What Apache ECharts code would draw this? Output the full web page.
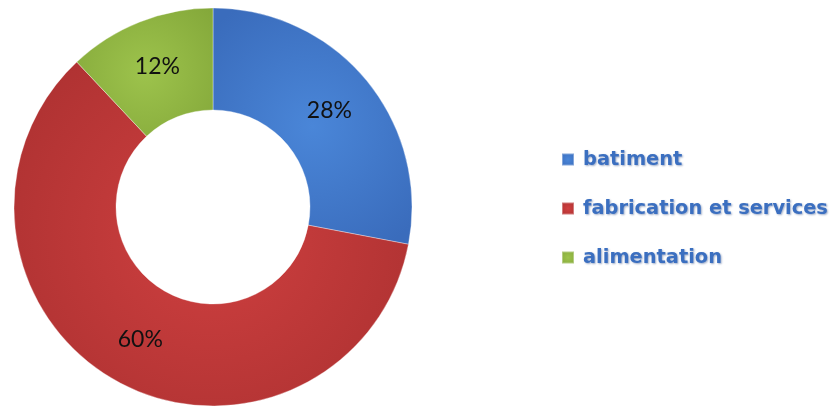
<!DOCTYPE html>
<html>
<head>
<meta charset="utf-8">
<script src="https://cdn.jsdelivr.net/npm/echarts@6/dist/echarts.min.js"></script>
<style>html,body{margin:0;padding:0;background:#fff}#c{width:832px;height:407px}</style>
</head>
<body>
<div id="c"></div>
<script>
const categories = ['batiment', 'fabrication et services', 'alimentation'];
const values = [28, 60, 12];
const colors = ['#4A86D8', '#CF4040', '#9DC34C'];
const darks = ['#3A6CBC', '#AD3131', '#84A83A'];

const chart = echarts.init(document.getElementById('c'));
chart.setOption({
  animation: false,
  legend: {
    orient: 'vertical',
    left: 556,
    top: 145,
    itemWidth: 12,
    itemHeight: 12,
    itemGap: 30,
    icon: 'rect',
    textStyle: {
      color: '#3B6FC0',
      fontFamily: 'DejaVu Sans',
      fontWeight: 'bold',
      fontSize: 19.4,
      padding: [0, 0, 0, 4],
      textShadowColor: 'rgba(40,70,130,0.45)',
      textShadowBlur: 2,
      textShadowOffsetX: 1,
      textShadowOffsetY: 1
    },
    data: categories
  },
  series: [{
    type: 'pie',
    center: [213, 207],
    radius: [97, 199],
    startAngle: 90,
    clockwise: true,
    label: {
      position: 'inside',
      formatter: p => p.value + '%',
      color: '#111',
      fontFamily: 'Lato',
      fontSize: 23
    },
    labelLine: { show: false },
    itemStyle: { borderColor: 'rgba(255,255,255,0.35)', borderWidth: 1 },
    data: categories.map((n, i) => ({
      name: n,
      value: values[i],
      itemStyle: {
        color: {
          type: 'radial', x: 0.5, y: 0.5, r: 0.7,
          colorStops: [{offset: 0, color: colors[i]}, {offset: 1, color: darks[i]}]
        }
      }
    }))
  }]
});
</script>
</body>
</html>
